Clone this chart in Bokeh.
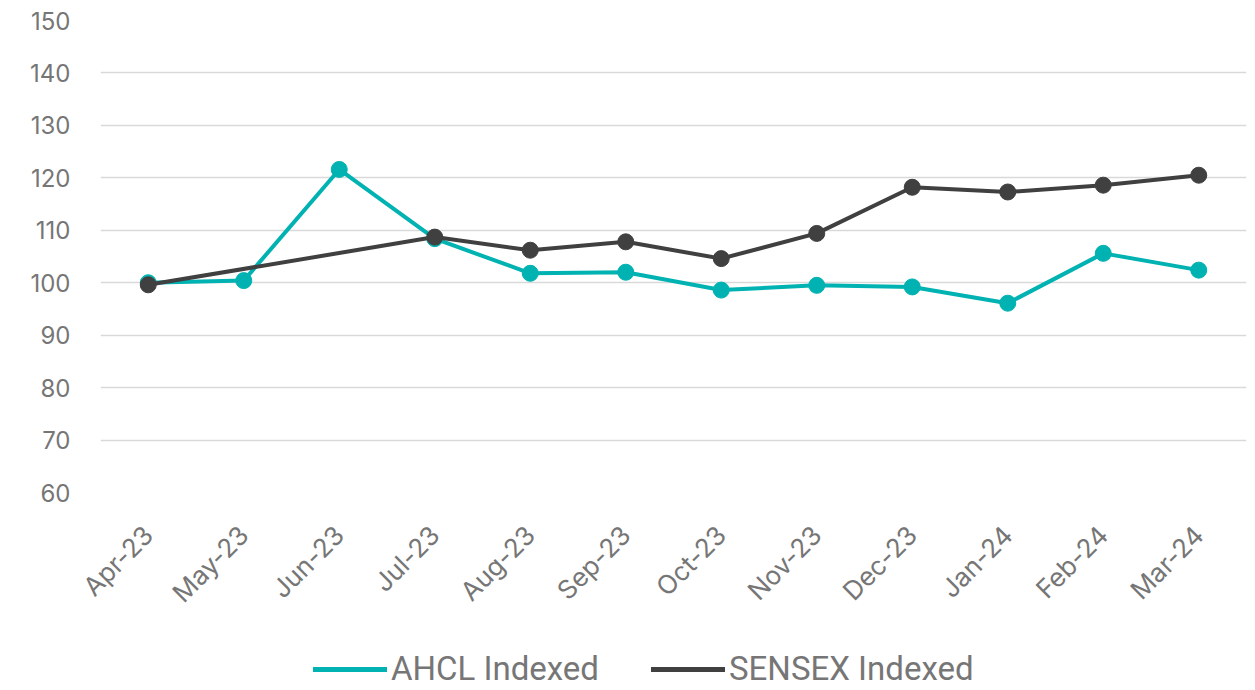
import math
from bokeh.plotting import figure
from bokeh.layouts import column
from bokeh.models import Legend, LegendItem, FactorRange, Range1d, ColumnDataSource
from bokeh.embed import file_html
from bokeh.resources import INLINE

months = ["Apr-23", "May-23", "Jun-23", "Jul-23", "Aug-23", "Sep-23",
          "Oct-23", "Nov-23", "Dec-23", "Jan-24", "Feb-24", "Mar-24"]
ahcl = [100.0, 100.4, 121.6, 108.4, 101.8, 102.0, 98.6, 99.5, 99.2, 96.1, 105.6, 102.4]
sensex = [99.6, None, None, 108.7, 106.2, 107.8, 104.6, 109.4, 118.2, 117.3, 118.6, 120.5]
y_ticks = [60, 70, 80, 90, 100, 110, 120, 130, 140, 150]
series_names = ["AHCL Indexed", "SENSEX Indexed"]

TEAL = "#00B2B2"
DARK = "#404041"
GRAY = "#767676"

p = figure(x_range=FactorRange(*months, range_padding=0), y_range=Range1d(60, 150),
           frame_width=1146, frame_height=472, output_backend="svg", toolbar_location=None,
           min_border_left=100, min_border_right=2, min_border_top=20, min_border_bottom=148)
p.outline_line_color = None
p.background_fill_color = "white"

src_a = ColumnDataSource(dict(x=months, y=ahcl))
s_x = [m for m, v in zip(months, sensex) if v is not None]
s_y = [v for v in sensex if v is not None]
src_s = ColumnDataSource(dict(x=s_x, y=s_y))

p.line("x", "y", source=src_a, line_color=TEAL, line_width=4)
p.scatter("x", "y", source=src_a, size=16, fill_color=TEAL, line_color=TEAL)
p.line("x", "y", source=src_s, line_color=DARK, line_width=4)
p.scatter("x", "y", source=src_s, size=16, fill_color=DARK, line_color=DARK)

p.yaxis.ticker = y_ticks
p.ygrid.grid_line_color = "#d9d9d9"
p.ygrid.grid_line_width = 1.5
p.xgrid.grid_line_color = None
for ax in (p.xaxis, p.yaxis):
    ax.axis_line_color = None
    ax.major_tick_line_color = None
    ax.minor_tick_line_color = None
    ax.major_label_text_color = GRAY
    ax.major_label_text_font = "Inter"
    ax.major_label_text_font_size = "24px"
p.xaxis.major_label_text_font_size = "26px"
p.yaxis.major_label_standoff = 24
p.xaxis.major_label_orientation = math.pi / 4
p.xaxis.major_label_standoff = 32

# legend strip below the chart (series drawn out of its visible y range)
lf = figure(width=1248, height=50, output_backend="svg", toolbar_location=None,
            x_axis_location=None, y_axis_location=None, min_border=0,
            min_border_left=100, min_border_right=2,
            x_range=FactorRange(*months, range_padding=0), y_range=Range1d(0, 1))
lf.outline_line_color = None
lf.xgrid.grid_line_color = None
lf.ygrid.grid_line_color = None
ra = lf.line("x", "y", source=src_a, line_color=TEAL, line_width=5, line_cap="round")
rs = lf.line("x", "y", source=src_s, line_color=DARK, line_width=5, line_cap="round")
legend = Legend(items=[LegendItem(label=series_names[0], renderers=[ra]),
                       LegendItem(label=series_names[1], renderers=[rs])],
                orientation="horizontal", location=(213, 2),
                label_text_font="Roboto", label_text_font_size="33px",
                label_text_color=GRAY, glyph_width=74, glyph_height=20,
                label_standoff=4, spacing=52, border_line_color=None,
                background_fill_alpha=0, margin=0, padding=0)
lf.add_layout(legend, "center")

layout = column(p, lf, spacing=0)
open("out.html", "w").write(file_html(layout, INLINE))
